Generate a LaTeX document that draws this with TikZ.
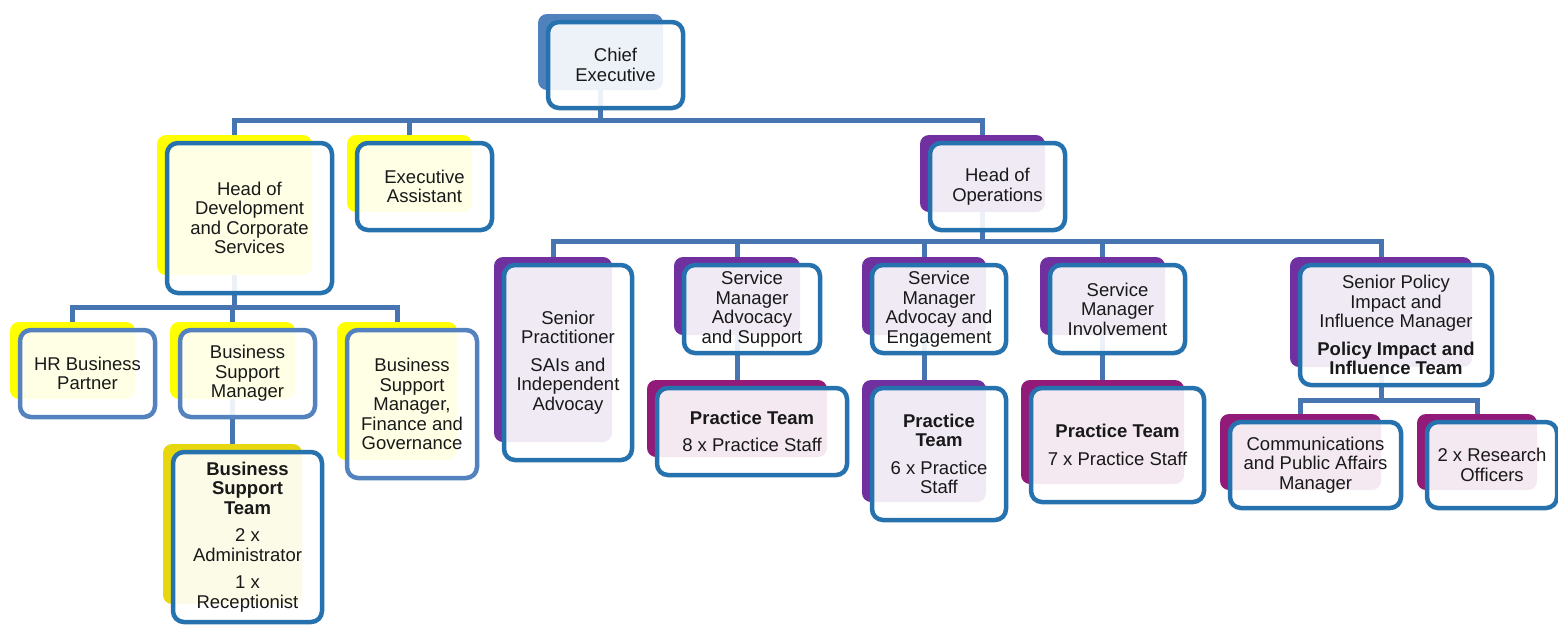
\documentclass[tikz,border=0pt]{standalone}
\usepackage{fontspec}
\setmainfont{Liberation Sans}

\definecolor{ceblue}{HTML}{4F81BD}
\definecolor{hiyellow}{HTML}{FFFF00}
\definecolor{goldback}{HTML}{E6D70F}
\definecolor{violetback}{HTML}{7030A0}
\definecolor{plumback}{HTML}{921A78}
\definecolor{edgedark}{HTML}{2672AE}
\definecolor{edgelight}{HTML}{5382BF}
\definecolor{linkblue}{HTML}{4775B2}

\pgfdeclarelayer{links}
\pgfsetlayers{links,main}

\tikzset{
  backbox/.style={rectangle, rounded corners=9pt, inner sep=0pt, draw=none},
  frontbox/.style={rectangle, rounded corners=11pt, inner sep=0pt, line width=4.5pt,
    fill=white, fill opacity=0.9, text opacity=1},
  boxtext/.style={align=center, font=\fontsize{18.5}{19.5}\selectfont, inner sep=0pt, text=black!90},
  link/.style={draw=linkblue, line width=5pt}
}

% #1 name, #2 back colour, #3 outline colour, #4-#7 front box corners (x1,y1,x2,y2), #8 text
\newcommand\orgunit[8]{%
  \node[backbox, fill=#2, minimum width={(#6-#4-10)*1pt}, minimum height={(#7-#5-10)*1pt}]
    (#1B) at ({(#4+#6)/2-15},{(#5+#7)/2-13}) {};
  \node[frontbox, draw=#3, minimum width={(#6-#4)*1pt}, minimum height={(#7-#5)*1pt}]
    (#1) at ({(#4+#6)/2},{(#5+#7)/2}) {};
  \node[boxtext] (#1T) at (#1.center) {#8};
}

\begin{document}
\begin{tikzpicture}[x=1pt, y=-1pt]
\useasboundingbox (0,0) rectangle (1558,625);

% top level
\orgunit{ce}{ceblue}{edgedark}{548}{22}{683}{108}{Chief\\Executive}

% second level
\orgunit{hod}{hiyellow}{edgedark}{167}{143}{332}{293}{Head of\\Development\\and Corporate\\Services}
\orgunit{ea}{hiyellow}{edgedark}{357}{143}{492}{230}{Executive\\Assistant}
\orgunit{hoo}{violetback}{edgedark}{930}{143}{1065}{230}{Head of\\Operations}

% development and corporate services
\orgunit{hr}{hiyellow}{edgelight}{20}{330}{155}{417}{HR Business\\Partner}
\orgunit{bsm}{hiyellow}{edgelight}{180}{330}{315}{417}{Business\\Support\\Manager}
\orgunit{bsmf}{hiyellow}{edgelight}{347}{330}{477}{478}{Business\\Support\\Manager,\\Finance and\\Governance}
\orgunit{bst}{goldback}{edgedark}{173}{452}{322}{622}{\textbf{Business}\\\textbf{Support}\\\textbf{Team}\\[8pt]2 x\\Administrator\\[8pt]1 x\\Receptionist}

% operations
\orgunit{sp}{violetback}{edgedark}{504}{265}{632}{460}{Senior\\Practitioner\\[8pt]SAIs and\\Independent\\Advocay}
\orgunit{smas}{violetback}{edgedark}{684}{265}{820}{353}{Service\\Manager\\Advocacy\\and Support}
\orgunit{smae}{violetback}{edgedark}{872}{265}{1006}{353}{Service\\Manager\\Advocay and\\Engagement}
\orgunit{smi}{violetback}{edgedark}{1050}{265}{1185}{353}{Service\\Manager\\Involvement}
\orgunit{spi}{violetback}{edgedark}{1300}{265}{1492}{385}{Senior Policy\\Impact and\\Influence Manager\\[8pt]\textbf{Policy Impact and}\\\textbf{Influence Team}}

\orgunit{pteight}{plumback}{edgedark}{657}{388}{847}{475}{\textbf{Practice Team}\\[8pt]8 x Practice Staff}
\orgunit{ptsix}{violetback}{edgedark}{872}{388}{1006}{520}{\textbf{Practice}\\\textbf{Team}\\[8pt]6 x Practice\\Staff}
\orgunit{ptseven}{plumback}{edgedark}{1031}{388}{1204}{502}{\textbf{Practice Team}\\[8pt]7 x Practice Staff}

\orgunit{comms}{plumback}{edgedark}{1230}{422}{1401}{508}{Communications\\and Public Affairs\\Manager}
\orgunit{res}{plumback}{edgedark}{1427}{422}{1557}{508}{2 x Research\\Officers}

% reporting lines, behind the boxes
\begin{pgfonlayer}{links}
  \foreach \child in {hod,ea,hoo}
    \draw[link] (ceB.south) -- ++(0,30) -| (\child B.north);
  \foreach \child in {hr,bsm,bsmf}
    \draw[link] (hodB.south) -- ++(0,32) -| (\child B.north);
  \draw[link] (bsmB.south) -- (bsmB.south |- bstB.north);
  \foreach \child in {sp,smas,smae,smi,spi}
    \draw[link] (hooB.south) -- ++(0,29) -| (\child B.north);
  \draw[link] (smasB.south) -- (smasB.south |- pteightB.north);
  \draw[link] (smaeB.south) -- (smaeB.south |- ptsixB.north);
  \draw[link] (smiB.south) -- (smiB.south |- ptsevenB.north);
  \foreach \child in {comms,res}
    \draw[link] (spiB.south) -- ++(0,33) -| (\child B.north);
\end{pgfonlayer}
\end{tikzpicture}
\end{document}
